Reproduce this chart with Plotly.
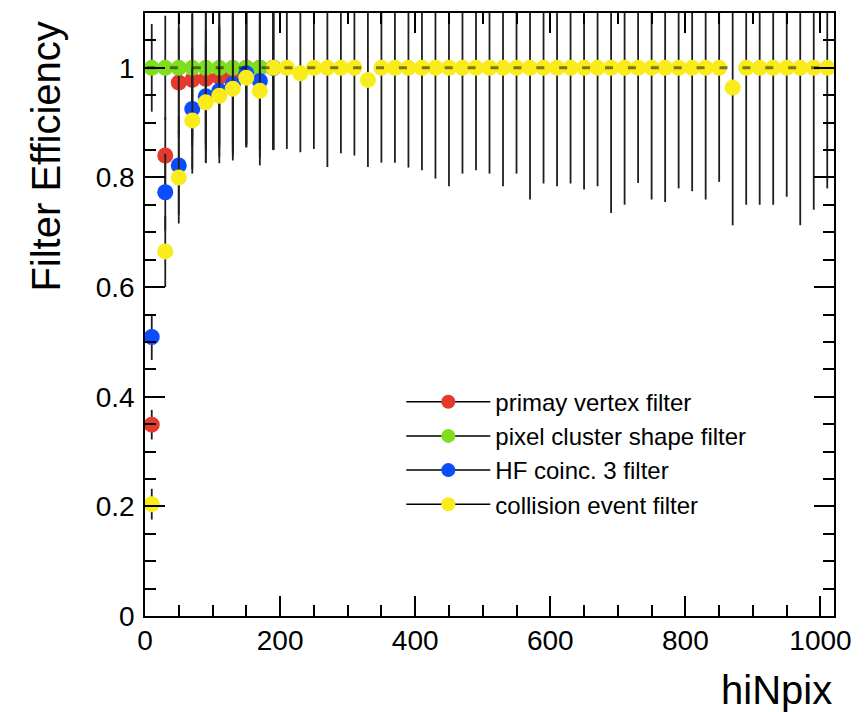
import plotly.graph_objects as go

# ---------------- data ----------------
# bin centres (bin width 20) for the first 10 bins, shared by red/green/blue
x_low = [10, 30, 50, 70, 90, 110, 130, 150, 170, 190]

red_eff = [0.349, 0.840, 0.973, 0.978, 0.980, 0.983, 0.988, 1.0, 1.0, 1.0]
red_err = [0.027, 0.070, 0.100, 0.120, 0.130, 0.130, 0.140, 0.140, 0.150, 0.150]

green_eff = [1.0, 1.0, 1.0, 1.0, 1.0, 1.0, 1.0, 1.0, 1.0, 1.0]
green_err = [0.080, 0.095, 0.120, 0.130, 0.140, 0.140, 0.140, 0.145, 0.150, 0.150]

blue_eff = [0.509, 0.773, 0.822, 0.925, 0.948, 0.958, 0.970, 0.990, 0.976, 1.0]
blue_err = [0.042, 0.070, 0.090, 0.110, 0.120, 0.120, 0.130, 0.130, 0.140, 0.150]

# collision event filter over the full range
x_all = [10, 30, 50, 70, 90, 110, 130, 150, 170, 190,
         210, 230, 250, 270, 290, 310, 330, 350, 370, 390,
         410, 430, 450, 470, 490, 510, 530, 550, 570, 590,
         610, 630, 650, 670, 690, 710, 730, 750, 770, 790,
         810, 830, 850, 870, 890, 910, 930, 950, 970, 990, 1010]
yellow_eff = [0.204, 0.665, 0.800, 0.904, 0.937, 0.949, 0.962, 0.982, 0.958, 1.0,
              1.0, 0.990, 1.0, 1.0, 1.0, 1.0, 0.978, 1.0, 1.0, 1.0,
              1.0, 1.0, 1.0, 1.0, 1.0, 1.0, 1.0, 1.0, 1.0, 1.0,
              1.0, 1.0, 1.0, 1.0, 1.0, 1.0, 1.0, 1.0, 1.0, 1.0,
              1.0, 1.0, 1.0, 0.964, 1.0, 1.0, 1.0, 1.0, 1.0, 1.0, 1.0]
yellow_err = [0.028, 0.065, 0.084, 0.097, 0.111, 0.123, 0.131, 0.127, 0.136, 0.148,
              0.148, 0.144, 0.148, 0.181, 0.156, 0.160, 0.159, 0.173, 0.173, 0.182,
              0.187, 0.202, 0.216, 0.193, 0.187, 0.193, 0.216, 0.193, 0.240, 0.211,
              0.216, 0.211, 0.222, 0.216, 0.265, 0.250, 0.210, 0.240, 0.245, 0.220,
              0.225, 0.240, 0.208, 0.251, 0.250, 0.250, 0.250, 0.235, 0.287, 0.259, 0.220]

half_bin = 10
x_ticks = [0, 200, 400, 600, 800, 1000]

series_names = ["primay vertex filter", "pixel cluster shape filter",
                "HF coinc. 3 filter", "collision event filter"]
series_colors = ["#e5392c", "#7fdf1f", "#0b4dfc", "#f9ec1a"]

FONT = "Liberation Sans, Arial, Helvetica, sans-serif"

fig = go.Figure()

series = [
    (x_low, red_eff, red_err),
    (x_low, green_eff, green_err),
    (x_low, blue_eff, blue_err),
    (x_all, yellow_eff, yellow_err),
]

for (xs, ys, es), name, col in zip(series, series_names, series_colors):
    fig.add_trace(go.Scatter(
        x=xs, y=ys, mode="markers", name=name, showlegend=False,
        marker=dict(color=col, size=16, line=dict(width=0)),
        error_y=dict(type="data", array=es, symmetric=True, color="#1e1e1e",
                     thickness=1.8, width=0),
        error_x=dict(type="constant", value=half_bin, color="#1e1e1e",
                     thickness=1.5, width=0),
        cliponaxis=True,
    ))

# legend entries (line + marker symbol as in the original legend)
for name, col in zip(series_names, series_colors):
    fig.add_trace(go.Scatter(
        x=[None], y=[None], mode="lines+markers", name=name,
        line=dict(color="black", width=1.5),
        marker=dict(color=col, size=14),
    ))

# dashed reference line at efficiency 1
fig.add_hline(y=1.0, line=dict(color="rgba(0,0,0,0.5)", width=3,
                               dash="0px,2px,8px,12.9px"), layer="above")

axis_common = dict(
    showgrid=False, zeroline=False, showline=True, linecolor="black",
    linewidth=1.5, mirror="ticks", ticks="inside", tickcolor="black",
    tickwidth=1.5, ticklen=20,
    tickfont=dict(family=FONT, size=28, color="black"),
)

fig.update_xaxes(range=[0, 1020], tickvals=x_ticks,
                 minor=dict(ticks="inside", ticklen=11, dtick=50,
                            tickcolor="black", tickwidth=1.5, showgrid=False),
                 ticklabelstandoff=-1, **axis_common)
fig.update_yaxes(range=[0, 1.1], dtick=0.2, tick0=0,
                 minor=dict(ticks="inside", ticklen=11, dtick=0.05,
                            tickcolor="black", tickwidth=1.5, showgrid=False),
                 ticklabelstandoff=3, **axis_common)

fig.add_annotation(text="hiNpix", xref="paper", yref="paper",
                   x=1.0, y=-0.122, xanchor="right", yanchor="middle",
                   showarrow=False, font=dict(family=FONT, size=40, color="black"))
fig.add_annotation(text="Filter Efficiency", xref="paper", yref="paper",
                   x=-0.145, y=0.762, xanchor="center", yanchor="middle",
                   textangle=-90, showarrow=False,
                   font=dict(family=FONT, size=40, color="black"))

fig.update_layout(
    width=865, height=712,
    margin=dict(l=145, r=31, t=11, b=96),
    paper_bgcolor="white", plot_bgcolor="white",
    legend=dict(x=0.372, y=0.392, xanchor="left", yanchor="top",
                bgcolor="rgba(0,0,0,0)", borderwidth=0,
                font=dict(family=FONT, size=24, color="black"),
                itemwidth=84, tracegroupgap=0),
    showlegend=True,
)

fig.write_html("out.html", config={"displayModeBar": False},
               post_script="document.body.style.margin='0px';")
